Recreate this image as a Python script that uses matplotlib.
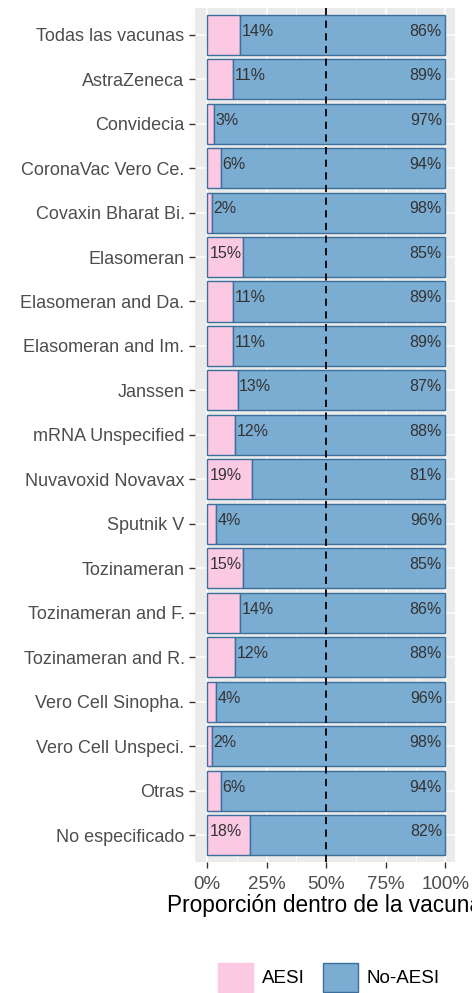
import matplotlib.pyplot as plt
from matplotlib.patches import Patch

vacunas = ["Todas las vacunas", "AstraZeneca", "Convidecia", "CoronaVac Vero Ce.",
           "Covaxin Bharat Bi.", "Elasomeran", "Elasomeran and Da.", "Elasomeran and Im.",
           "Janssen", "mRNA Unspecified", "Nuvavoxid Novavax", "Sputnik V",
           "Tozinameran", "Tozinameran and F.", "Tozinameran and R.", "Vero Cell Sinopha.",
           "Vero Cell Unspeci.", "Otras", "No especificado"]
aesi = [14, 11, 3, 6, 2, 15, 11, 11, 13, 12, 19, 4, 15, 14, 12, 4, 2, 6, 18]
no_aesi = [86, 89, 97, 94, 98, 85, 89, 89, 87, 88, 81, 96, 85, 86, 88, 96, 98, 94, 82]
x_ticks = [0, 0.25, 0.5, 0.75, 1.0]
x_tick_labels = ["0%", "25%", "50%", "75%", "100%"]

pink = "#fcc9e3"
blue = "#7bacd2"
edge = "#3d6f9c"
gray_txt = "#4d4d4d"

plt.rcParams['font.family'] = ['Liberation Sans', 'DejaVu Sans']

fig = plt.figure(figsize=(4.72, 9.93), dpi=100)
ax = fig.add_axes([0.413, 0.132, 0.551, 0.860])
ax.set_facecolor("#ebebeb")

ypos = list(range(len(vacunas)))
a = [v / 100 for v in aesi]
b = [v / 100 for v in no_aesi]

ax.barh(ypos, a, height=0.9, color=pink, edgecolor=edge, linewidth=1, zorder=3)
ax.barh(ypos, b, left=a, height=0.9, color=blue, edgecolor=edge, linewidth=1, zorder=3)

for y, va_, vb in zip(ypos, aesi, no_aesi):
    xa = 0.01 if va_ >= 15 else va_ / 100 + 0.005
    ax.text(xa, y - 0.08, f"{va_}%", ha="left", va="center", fontsize=11.5, color="#333333", zorder=5)
    ax.text(0.985, y - 0.08, f"{vb}%", ha="right", va="center", fontsize=11.5, color="#333333", zorder=5)

ax.axvline(0.5, color="black", linestyle=(0, (4, 3)), linewidth=1.3, zorder=4)

ax.set_xlim(-0.05, 1.04)
ax.set_ylim(len(vacunas) - 0.4, -0.6)
ax.set_xticks(x_ticks)
ax.set_xticklabels(x_tick_labels)
ax.set_xticks([0.125, 0.375, 0.625, 0.875], minor=True)
ax.set_yticks(ypos)
ax.set_yticklabels(vacunas)
ax.grid(True, which="major", color="white", linewidth=1.1, zorder=0)
ax.grid(True, which="minor", axis="x", color="white", linewidth=0.5, zorder=0)
ax.set_axisbelow(True)
for s in ax.spines.values():
    s.set_visible(False)
ax.tick_params(axis="y", which="major", colors="#333333", labelcolor=gray_txt,
               labelsize=13, length=4, width=1)
ax.tick_params(axis="x", which="major", colors="#333333", labelcolor=gray_txt,
               labelsize=13.5, length=4, width=1, pad=6)
ax.tick_params(axis="x", which="minor", length=0)

ax.set_xlabel("Proporción dentro de la vacuna", fontsize=16.3, color="black", labelpad=1)

handles = [Patch(facecolor=pink, edgecolor=pink, label="AESI"),
           Patch(facecolor=blue, edgecolor=edge, label="No-AESI")]
fig.legend(handles=handles, loc="center", bbox_to_anchor=(0.697, 0.016), ncol=2,
           frameon=False, fontsize=13.5, handlelength=1.85, handleheight=2.0,
           columnspacing=1.0, handletextpad=0.45, borderpad=0)

fig.savefig("out.png", dpi=100)
